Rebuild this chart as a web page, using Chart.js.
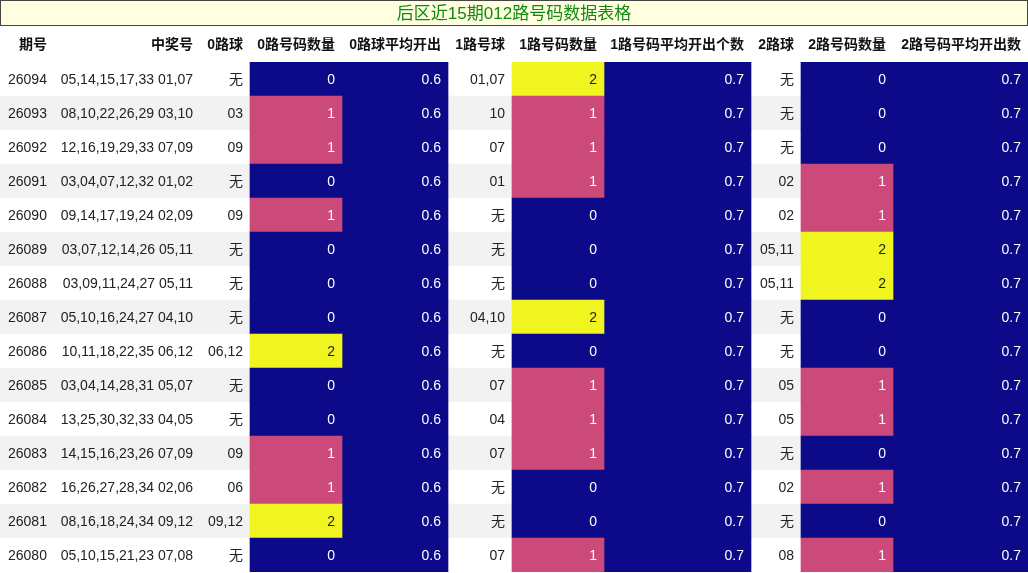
<!DOCTYPE html>
<html><head><meta charset="utf-8">
<script src="https://cdn.jsdelivr.net/npm/chart.js@4/dist/chart.umd.min.js"></script>
<style>html,body{margin:0;padding:0;background:#fff}#wrap{width:1028px;height:573px}</style>
</head><body><div id="wrap"><canvas id="c"></canvas></div>
<script>
const title = '后区近15期012路号码数据表格';
const headers = ['期号','中奖号','0路球','0路号码数量','0路球平均开出','1路号球','1路号码数量','1路号码平均开出个数','2路球','2路号码数量','2路号码平均开出数'];
const periods = ['26094','26093','26092','26091','26090','26089','26088','26087','26086','26085','26084','26083','26082','26081','26080'];
const winning = ['05,14,15,17,33 01,07','08,10,22,26,29 03,10','12,16,19,29,33 07,09','03,04,07,12,32 01,02','09,14,17,19,24 02,09','03,07,12,14,26 05,11','03,09,11,24,27 05,11','05,10,16,24,27 04,10','10,11,18,22,35 06,12','03,04,14,28,31 05,07','13,25,30,32,33 04,05','14,15,16,23,26 07,09','16,26,27,28,34 02,06','08,16,18,24,34 09,12','05,10,15,21,23 07,08'];
const balls0 = ['无','03','09','无','09','无','无','无','06,12','无','无','09','06','09,12','无'];
const count0 = [0,1,1,0,1,0,0,0,2,0,0,1,1,2,0];
const balls1 = ['01,07','10','07','01','无','无','无','04,10','无','07','04','07','无','无','07'];
const count1 = [2,1,1,1,0,0,0,2,0,1,1,1,0,0,1];
const balls2 = ['无','无','无','02','02','05,11','05,11','无','无','05','05','无','02','无','08'];
const count2 = [0,0,0,1,1,2,2,0,0,1,1,0,1,0,1];
const avg0 = 0.6, avg1 = 0.7, avg2 = 0.7;

// layout
const colEdges = [0,55,200,250,342,448,512,604,751,801,893,1028];
const countColors = ['#0d0a8a','#cc4a7a','#f0f520'];
const countText = ['#ffffff','#ffffff','#222222'];
const navy = '#0d0a8a';
const cell = c => periods.map(() => [colEdges[c], colEdges[c+1]]);

const columns = [
  periods, winning, balls0, count0.map(String), periods.map(()=>avg0.toFixed(1)),
  balls1, count1.map(String), periods.map(()=>avg1.toFixed(1)),
  balls2, count2.map(String), periods.map(()=>avg2.toFixed(1))
];
const textColors = [null,null,null,count0.map(v=>countText[v]),null,null,count1.map(v=>countText[v]),null,null,count2.map(v=>countText[v]),null];
const whiteCols = [4,7,10];

const base = {type:'bar', barPercentage:1, categoryPercentage:1, grouped:false, borderWidth:0};
const datasets = [
  {...base, order:2, data: periods.map(()=>[0,1028]), backgroundColor: periods.map((_,i)=> i%2 ? '#f2f2f2' : '#ffffff')},
  {...base, order:1, data: cell(3), backgroundColor: count0.map(v=>countColors[v])},
  {...base, order:1, data: cell(4), backgroundColor: navy},
  {...base, order:1, data: cell(6), backgroundColor: count1.map(v=>countColors[v])},
  {...base, order:1, data: cell(7), backgroundColor: navy},
  {...base, order:1, data: cell(9), backgroundColor: count2.map(v=>countColors[v])},
  {...base, order:1, data: cell(10), backgroundColor: navy}
];

const textPlugin = {
  id:'tableText',
  beforeDraw(chart){
    const ctx = chart.ctx;
    ctx.save();
    ctx.fillStyle='#fff'; ctx.fillRect(0,0,1028,573);
    ctx.fillStyle='#ffffe0'; ctx.fillRect(0.5,0.5,1027,25);
    ctx.strokeStyle='#444'; ctx.lineWidth=1; ctx.strokeRect(0.5,0.5,1027,25);
    ctx.fillStyle='#118811'; ctx.font='17px "Liberation Sans", "Noto Sans CJK SC", sans-serif';
    ctx.textAlign='center'; ctx.textBaseline='middle';
    ctx.fillText(title,514,14);
    ctx.restore();
  },
  afterDatasetsDraw(chart){
    const ctx = chart.ctx, xs = chart.scales.x, ys = chart.scales.y;
    ctx.save();
    ctx.textBaseline='middle';
    ctx.font='bold 14px "Liberation Sans", "Noto Sans CJK SC", sans-serif';
    ctx.fillStyle='#111';
    headers.forEach((h,c)=>{
      if(c===0){ctx.textAlign='center'; ctx.fillText(h,33,45);}
      else {ctx.textAlign='right'; ctx.fillText(h, xs.getPixelForValue(colEdges[c+1])-7, 45);}
    });
    ctx.font='14px "Liberation Sans", "Noto Sans CJK SC", sans-serif';
    periods.forEach((p,i)=>{
      const y = ys.getPixelForValue(i)+1;
      columns.forEach((col,c)=>{
        let color = '#222';
        if(textColors[c]) color = textColors[c][i];
        if(whiteCols.includes(c)) color = '#fff';
        ctx.fillStyle = color;
        if(c===0){ctx.textAlign='left'; ctx.fillText(col[i], xs.getPixelForValue(colEdges[0])+8, y);}
        else {ctx.textAlign='right'; ctx.fillText(col[i], xs.getPixelForValue(colEdges[c+1])-7, y);}
      });
    });
    ctx.restore();
  }
};

new Chart(document.getElementById('c'), {
  type:'bar',
  data:{labels: periods, datasets},
  options:{
    indexAxis:'y', responsive:true, maintainAspectRatio:false, animation:false,
    layout:{padding:{top:62,bottom:1,left:0,right:0}},
    plugins:{legend:{display:false}, tooltip:{enabled:false}, title:{display:false}},
    scales:{
      x:{type:'linear', min:0, max:1028, display:false},
      y:{type:'category', display:false, offset:true}
    }
  },
  plugins:[textPlugin]
});
</script></body></html>
